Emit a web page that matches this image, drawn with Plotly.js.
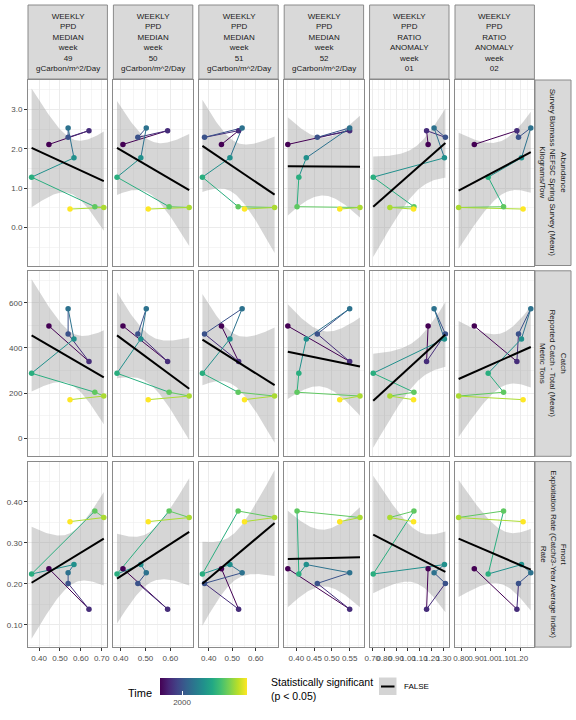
<!DOCTYPE html>
<html><head><meta charset="utf-8">
<script src="https://cdn.plot.ly/plotly-3.0.1.min.js"></script>
<style>body{margin:0;padding:0;background:#fff}#chart{width:576px;height:720px}</style>
</head><body><div id="chart"></div>
<script>
// ---------------- data ----------------
const years = [1998, 1999, 2000, 2001, 2002, 2003, 2004, 2005, 2006];

const colLabels = [
  "WEEKLY<br>PPD<br>MEDIAN<br>week<br>49<br>gCarbon/m^2/Day",
  "WEEKLY<br>PPD<br>MEDIAN<br>week<br>50<br>gCarbon/m^2/Day",
  "WEEKLY<br>PPD<br>MEDIAN<br>week<br>51<br>gCarbon/m^2/Day",
  "WEEKLY<br>PPD<br>MEDIAN<br>week<br>52<br>gCarbon/m^2/Day",
  "WEEKLY<br>PPD<br>RATIO<br>ANOMALY<br>week<br>01",
  "WEEKLY<br>PPD<br>RATIO<br>ANOMALY<br>week<br>02"
];
const rowLabels = [
  "Abundance<br>Survey Biomass NEFSC Spring Survey (Mean)<br>Kilograms/Tow",
  "Catch<br>Reported Catch - Total (Mean)<br>Metric Tons",
  "Fmort<br>Exploitation Rate (Catch/3-Year Average Index)<br>Rate"
];

// x variables (one per column), ordered by year
const ppdWeek49 = [0.447, 0.639, 0.539, 0.539, 0.567, 0.364, 0.667, 0.710, 0.548];
const ppdWeek50 = [0.409, 0.589, 0.469, 0.503, 0.481, 0.385, 0.595, 0.676, 0.511];
const ppdWeek51 = [0.454, 0.527, 0.382, 0.542, 0.490, 0.373, 0.525, 0.680, 0.552];
const ppdWeek52 = [0.376, 0.550, 0.459, 0.550, 0.428, 0.407, 0.402, 0.579, 0.522];
const anomWeek01 = [1.169, 1.156, 1.314, 1.219, 1.306, 0.708, 1.050, 0.848, 1.047];
const anomWeek02 = [0.889, 1.177, 1.188, 1.271, 1.208, 0.983, 1.087, 0.783, 1.219];

// y variables (one per row), ordered by year
const abundance = [2.11, 2.46, 2.29, 2.53, 1.77, 1.28, 0.53, 0.51, 0.47];
const catchMT   = [497, 340, 462, 574, 440, 288, 204, 187, 171];
const fmort     = [0.237, 0.138, 0.201, 0.227, 0.247, 0.224, 0.378, 0.362, 0.352];

const xSeries = [ppdWeek49, ppdWeek50, ppdWeek51, ppdWeek52, anomWeek01, anomWeek02];
const ySeries = [abundance, catchMT, fmort];

// ---------------- styling ----------------
const W = 576, H = 720;
const colLeft0 = 28, colPitch = 85.4, colW = 79.4;
const rowTop0 = 80, rowPitch = 190.8, rowH = 185.5;
const xTickCfg = [
  {dtick: 0.1, minor: 0.05}, {dtick: 0.1, minor: 0.05}, {dtick: 0.1, minor: 0.05},
  {dtick: 0.05, minor: 0.025}, {dtick: 0.1, minor: 0.05}, {dtick: 0.1, minor: 0.05}
];
const yTickCfg = [
  {dtick: 1, minor: 0.5, fmt: '.1f'},
  {dtick: 200, minor: 100, fmt: 'd'},
  {dtick: 0.1, minor: 0.05, fmt: '.2f'}
];
const viridisStops = ["#440154","#482576","#414487","#35608D","#2A788E","#21908C",
                      "#22A884","#43BF71","#7AD151","#BBDF27","#FDE725"];
const colorscale = viridisStops.map((c, i) => [i / (viridisStops.length - 1), c]);
function hexRgb(h){return [parseInt(h.slice(1,3),16),parseInt(h.slice(3,5),16),parseInt(h.slice(5,7),16)];}
function viridis(t){
  t = Math.max(0, Math.min(1, t));
  const n = viridisStops.length - 1, f = t * n, i = Math.min(Math.floor(f), n - 1), u = f - i;
  const a = hexRgb(viridisStops[i]), b = hexRgb(viridisStops[i+1]);
  return 'rgb(' + a.map((v,k)=>Math.round(v + (b[k]-v)*u)).join(',') + ')';
}
const yMin = Math.min(...years), yMax = Math.max(...years);

// ---------------- linear fit with 95% CI (like geom_smooth(method='lm')) ----------------
const T975 = 2.364624; // t quantile, df = n - 2 = 7
function fitPanel(x, y){
  const n = x.length;
  const xb = x.reduce((s,v)=>s+v,0)/n, yb = y.reduce((s,v)=>s+v,0)/n;
  let sxx=0, sxy=0;
  for(let i=0;i<n;i++){sxx+=(x[i]-xb)**2; sxy+=(x[i]-xb)*(y[i]-yb);}
  const b = sxy/sxx, a = yb - b*xb;
  let sse=0; for(let i=0;i<n;i++){sse+=(y[i]-a-b*x[i])**2;}
  const s = Math.sqrt(sse/(n-2));
  const x0 = Math.min(...x), x1 = Math.max(...x);
  const xs=[], fit=[], lo=[], hi=[];
  for(let k=0;k<80;k++){
    const xv = x0 + (x1-x0)*k/79;
    const f = a + b*xv;
    const se = s*Math.sqrt(1/n + (xv-xb)**2/sxx);
    xs.push(xv); fit.push(f); lo.push(f - T975*se); hi.push(f + T975*se);
  }
  return {xs, fit, lo, hi};
}

const fits = ySeries.map(ys => xSeries.map(xs => fitPanel(xs, ys)));

function expand(mn, mx){const d=(mx-mn)*0.05; return [mn-d, mx+d];}
const xRanges = xSeries.map(xs => expand(Math.min(...xs), Math.max(...xs)));
const yRanges = ySeries.map((ys, r) => {
  let mn = Math.min(...ys), mx = Math.max(...ys);
  fits[r].forEach(f => {mn = Math.min(mn, ...f.lo); mx = Math.max(mx, ...f.hi);});
  return expand(mn, mx);
});

// ---------------- traces & axes ----------------
const traces = [];
const layout = {
  width: W, height: H, margin: {l:0, r:0, t:0, b:0},
  paper_bgcolor: '#ffffff', plot_bgcolor: '#ffffff', showlegend: false,
  font: {family: 'Liberation Sans, Arial, sans-serif', color: '#4d4d4d', size: 8},
  shapes: [], annotations: []
};
const gridCol = '#ebebeb', borderCol = '#8a8a8a';

for (let r = 0; r < ySeries.length; r++) {
  for (let c = 0; c < xSeries.length; c++) {
    const p = r * xSeries.length + c + 1;
    const xa = p === 1 ? 'x' : 'x' + p, ya = p === 1 ? 'y' : 'y' + p;
    const xs = xSeries[c], ys = ySeries[r], f = fits[r][c];
    const left = colLeft0 + c*colPitch, top = rowTop0 + r*rowPitch;
    const bottomRow = r === ySeries.length - 1, leftCol = c === 0;

    layout['xaxis' + (p===1?'':p)] = {
      domain: [left/W, (left+colW)/W], anchor: ya, range: xRanges[c],
      tick0: 0, dtick: xTickCfg[c].dtick, tickformat: '.2f', tickangle: 0,
      showticklabels: bottomRow, ticks: bottomRow ? 'outside' : '', ticklen: 3, tickcolor: '#333', tickwidth: 1,
      tickfont: {size: 8, color: '#4d4d4d'},
      showgrid: true, gridcolor: gridCol, gridwidth: 1, zeroline: false,
      minor: {tick0: 0, dtick: xTickCfg[c].minor, showgrid: true, gridcolor: gridCol, gridwidth: 0.5},
      showline: true, mirror: true, linecolor: borderCol, linewidth: 1, fixedrange: true
    };
    layout['yaxis' + (p===1?'':p)] = {
      domain: [1-(top+rowH)/H, 1-top/H], anchor: xa, range: yRanges[r],
      tick0: 0, dtick: yTickCfg[r].dtick, tickformat: yTickCfg[r].fmt,
      showticklabels: leftCol, ticks: leftCol ? 'outside' : '', ticklen: 3, tickcolor: '#333', tickwidth: 1,
      tickfont: {size: 8, color: '#4d4d4d'},
      showgrid: true, gridcolor: gridCol, gridwidth: 1, zeroline: false,
      minor: {tick0: 0, dtick: yTickCfg[r].minor, showgrid: true, gridcolor: gridCol, gridwidth: 0.5},
      showline: true, mirror: true, linecolor: borderCol, linewidth: 1, fixedrange: true
    };

    // confidence ribbon
    traces.push({
      type: 'scatter', mode: 'lines', xaxis: xa, yaxis: ya, hoverinfo: 'skip',
      x: f.xs.concat(f.xs.slice().reverse()), y: f.hi.concat(f.lo.slice().reverse()),
      fill: 'toself', fillcolor: 'rgba(153,153,153,0.4)', line: {width: 0}
    });
    // time path segments
    for (let i = 0; i < xs.length - 1; i++) {
      traces.push({
        type: 'scatter', mode: 'lines', xaxis: xa, yaxis: ya, hoverinfo: 'skip',
        x: [xs[i], xs[i+1]], y: [ys[i], ys[i+1]],
        line: {color: viridis((years[i]-yMin)/(yMax-yMin)), width: 1}
      });
    }
    // points
    const mk = {color: years, colorscale: colorscale, cmin: yMin, cmax: yMax, size: 5.5};
    if (p === 1) {
      mk.showscale = true;
      mk.colorbar = {
        orientation: 'h', x: 160.3/W, xanchor: 'left', y: 1 - 678/H, yanchor: 'top',
        len: 86.5, lenmode: 'pixels', thickness: 17, thicknessmode: 'pixels',
        xpad: 0, ypad: 0, outlinewidth: 0, title: {text: ''},
        tickvals: [2000], ticktext: ['2000'], ticks: 'inside', ticklen: 4,
        tickcolor: '#ffffff', tickwidth: 1, tickfont: {size: 8, color: '#4d4d4d'}
      };
    }
    traces.push({
      type: 'scatter', mode: 'markers', xaxis: xa, yaxis: ya, hoverinfo: 'skip',
      x: xs, y: ys, marker: mk
    });
    // fitted line
    traces.push({
      type: 'scatter', mode: 'lines', xaxis: xa, yaxis: ya, hoverinfo: 'skip',
      x: f.xs, y: f.fit, line: {color: '#000000', width: 2}
    });
  }
}

// ---------------- strips ----------------
const stripFill = '#d9d9d9', stripLine = '#8a8a8a';
for (let c = 0; c < xSeries.length; c++) {
  const left = colLeft0 + c*colPitch;
  layout.shapes.push({type:'rect', xref:'paper', yref:'paper', x0:left/W, x1:(left+colW)/W,
    y0:1-79/H, y1:1-5/H, fillcolor:stripFill, line:{color:stripLine, width:1}, layer:'below'});
  layout.annotations.push({xref:'paper', yref:'paper', x:(left+colW/2)/W, y:1-42/H,
    xanchor:'center', yanchor:'middle', showarrow:false, text:colLabels[c],
    font:{size:8, color:'#1a1a1a'}});
}
const stripX0 = 535, stripX1 = 571;
for (let r = 0; r < ySeries.length; r++) {
  const top = rowTop0 + r*rowPitch;
  layout.shapes.push({type:'rect', xref:'paper', yref:'paper', x0:stripX0/W, x1:stripX1/W,
    y0:1-(top+rowH)/H, y1:1-top/H, fillcolor:stripFill, line:{color:stripLine, width:1}, layer:'below'});
  layout.annotations.push({xref:'paper', yref:'paper', x:(stripX0+stripX1)/2/W, y:1-(top+rowH/2)/H,
    xanchor:'center', yanchor:'middle', showarrow:false, textangle:90, text:rowLabels[r],
    font:{size:8, color:'#1a1a1a'}});
}

// ---------------- legends ----------------
layout.annotations.push({xref:'paper', yref:'paper', x:154/W, y:1-693/H, xanchor:'right', yanchor:'middle',
  showarrow:false, text:'Time', font:{size:11, color:'#000'}});
layout.annotations.push({xref:'paper', yref:'paper', x:269/W, y:1-689/H, xanchor:'left', yanchor:'middle',
  showarrow:false, align:'left', text:'Statistically significant<br>(p < 0.05)', font:{size:10.5, color:'#000'}});
layout.shapes.push({type:'rect', xref:'paper', yref:'paper', x0:379/W, x1:396.5/W, y0:1-695/H, y1:1-677.5/H,
  fillcolor:'#d4d4d4', line:{width:0}});
layout.shapes.push({type:'line', xref:'paper', yref:'paper', x0:381/W, x1:394.5/W, y0:1-686.5/H, y1:1-686.5/H,
  line:{color:'#000', width:2}});
layout.annotations.push({xref:'paper', yref:'paper', x:402/W, y:1-686.5/H, xanchor:'left', yanchor:'middle',
  showarrow:false, text:'FALSE', font:{size:8, color:'#000'}});

Plotly.newPlot('chart', traces, layout, {staticPlot: true, displayModeBar: false});
</script></body></html>
